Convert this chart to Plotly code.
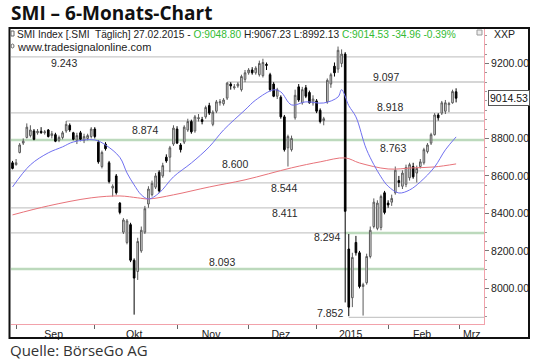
import pandas as pd
import plotly.graph_objects as go

# ---------------- data ----------------
holidays = ["2014-12-24", "2014-12-25", "2014-12-26", "2014-12-31", "2015-01-01", "2015-01-02"]
dates = [d for d in pd.bdate_range("2014-08-29", "2015-02-27") if d.strftime("%Y-%m-%d") not in holidays]

opens = [8670, 8660, 8725, 8775, 8805, 8815, 8840, 8830, 8838, 8830, 8845, 8815, 8820, 8790, 8805, 8840, 8870, 8830, 8790, 8830,
         8790, 8800, 8810, 8850, 8780, 8650, 8770, 8670, 8535, 8600, 8455, 8300, 8245, 8340, 8150, 8090, 8200, 8300, 8450, 8500,
         8540, 8620, 8600, 8700, 8700, 8770, 8850, 8765, 8780, 8845, 8890, 8840, 8905, 8900, 8915, 8975, 8875, 8945, 8990, 8985,
         9015, 9090, 9070, 9080, 9060, 9115, 9150, 9165, 9150, 9140, 9135, 9195, 9140, 9090, 9025, 9020, 8915, 8750, 8740, 8910,
         9075, 8990, 9070, 9045, 8990, 9000, 8950, 8895, 8995, 9090, 9185, 9170, 9200, 9250, 8210, 7950, 8245, 8190, 8010, 8030,
         8170, 8330, 8320, 8325, 8510, 8455, 8460, 8510, 8575, 8545, 8555, 8590, 8650, 8615, 8650, 8670, 8730, 8775, 8820, 8925,
         8935, 8945, 8980, 8990, 9048.80]
highs = [8680, 8690, 8775, 8800, 8880, 8870, 8850, 8850, 8860, 8845, 8850, 8840, 8830, 8815, 8840, 8893, 8880, 8835, 8830, 8840,
         8825, 8825, 8860, 8860, 8790, 8735, 8780, 8680, 8555, 8610, 8460, 8375, 8370, 8350, 8160, 8270, 8330, 8440, 8545, 8575,
         8615, 8630, 8670, 8715, 8760, 8870, 8865, 8775, 8870, 8905, 8900, 8925, 8930, 8915, 8975, 8990, 8950, 9005, 9010, 9015,
         9101, 9100, 9090, 9100, 9140, 9165, 9175, 9180, 9185, 9215, 9225, 9205, 9150, 9100, 9070, 9030, 8925, 8820, 8815, 9060,
         9090, 9075, 9085, 9055, 9030, 9010, 8960, 8915, 9120, 9150, 9205, 9290, 9275, 9260, 8290, 8190, 8280, 8200, 8030, 8185,
         8330, 8480, 8470, 8500, 8520, 8470, 8500, 8650, 8600, 8630, 8660, 8670, 8670, 8655, 8690, 8750, 8775, 8830, 8935, 8935,
         9000, 9005, 8995, 9060, 9067.23]
lows = [8635, 8655, 8720, 8765, 8800, 8805, 8790, 8820, 8825, 8820, 8805, 8800, 8780, 8780, 8795, 8830, 8835, 8790, 8770, 8785,
        8775, 8790, 8800, 8800, 8665, 8640, 8735, 8560, 8490, 8500, 8395, 8290, 8235, 8140, 7860, 8045, 8190, 8290, 8430, 8490,
        8530, 8510, 8590, 8670, 8620, 8760, 8770, 8725, 8770, 8835, 8825, 8830, 8890, 8875, 8905, 8925, 8865, 8935, 8975, 8975,
        9005, 9060, 9060, 9070, 9050, 9100, 9140, 9140, 9140, 9130, 9125, 9165, 9050, 9020, 9010, 8905, 8730, 8650, 8730, 8900,
        8995, 8980, 9015, 8985, 8975, 8935, 8880, 8870, 8985, 9070, 9130, 9150, 9180, 7925, 7852, 7900, 8175, 8000, 7855, 8020,
        8160, 8320, 8310, 8310, 8395, 8430, 8440, 8500, 8540, 8530, 8540, 8575, 8585, 8565, 8640, 8660, 8720, 8765, 8815, 8895,
        8925, 8930, 8940, 8985, 8992.13]
closes = [8640, 8670, 8765, 8785, 8860, 8845, 8795, 8838, 8830, 8835, 8810, 8825, 8785, 8805, 8830, 8875, 8845, 8795, 8815, 8795,
          8810, 8815, 8850, 8810, 8675, 8725, 8745, 8570, 8545, 8510, 8405, 8365, 8360, 8150, 8055, 8250, 8310, 8425, 8530, 8560,
          8600, 8520, 8655, 8680, 8750, 8855, 8775, 8740, 8860, 8890, 8835, 8915, 8910, 8890, 8965, 8935, 8940, 8995, 8995, 9005,
          9095, 9080, 9075, 9090, 9130, 9150, 9165, 9150, 9175, 9200, 9205, 9190, 9060, 9025, 9060, 8915, 8740, 8810, 8800, 9030,
          9005, 9060, 9025, 8990, 9010, 8945, 8890, 8905, 9110, 9140, 9150, 9270, 9250, 8411, 7900, 8165, 8190, 8010, 8020, 8170,
          8310, 8460, 8455, 8490, 8405, 8445, 8480, 8630, 8565, 8615, 8645, 8660, 8595, 8640, 8675, 8740, 8765, 8820, 8925, 8910,
          8990, 8990, 8985, 9050, 9014.53]

# moving averages (trading-day index, value)
ma_short_idx = [0, 5, 10, 14, 17, 23, 26, 30, 32, 34, 36, 38, 41, 45, 50, 55, 59, 65, 68, 73, 75, 78, 82, 87, 91, 92, 94,
                96, 99, 103, 105, 108, 111, 114, 118, 121, 124]
ma_short_val = [8541, 8659, 8723, 8755, 8781, 8792, 8765, 8699, 8616, 8552, 8499, 8477, 8509, 8595, 8669, 8755, 8845, 8952,
                9005, 9059, 9048, 8979, 8995, 8989, 9021, 9060, 8975, 8915, 8739, 8595, 8545, 8509, 8525, 8568, 8648, 8739, 8808]
ma_long_idx = [0, 10, 22, 30, 35, 38, 45, 55, 65, 78, 86, 93, 97, 105, 112, 118, 124]
ma_long_val = [8392, 8440, 8483, 8493, 8483, 8477, 8499, 8541, 8579, 8643, 8675, 8696, 8669, 8637, 8643, 8648, 8664]

# horizontal support / resistance levels
level_values = [9235, 9101, 8936, 8893, 8792, 8627, 8563, 8429, 8296, 8104, 7845]
level_labels = ["9.243", "9.097", "8.918", "8.874", "8.763", "8.600", "8.544", "8.411", "8.294", "8.093", "7.852"]
level_start = [None, 60, None, 15, None, None, None, None, None, None, 94]
level_green = [False, False, False, False, True, False, False, False, False, True, False]
label_idx = [14.4, 104.4, 105.5, 37.0, 106.4, 62.2, 75.9, 76.2, 87.9, 58.6, 88.8]
label_val = [9203, 9128, 8968, 8845, 8749, 8664, 8536, 8400, 8275, 8141, 7869]

month_labels = ["Sep", "Okt", "Nov", "Dez", "2015", "Feb", "Mrz"]

# ---------------- figure ----------------
W, H = 540, 361
ML, MR, MT, MB = 11, 56, 28, 37
PW, PH = W - ML - MR, H - MT - MB
X_RANGE = [-0.42, 131.8]
Y_RANGE = [7810, 9389]


def px(x):
    return (x - ML) / PW


def py(y):
    return (H - MB - y) / PH


idx = list(range(len(dates)))
# month starts and mid-month label positions from the trading calendar
month_keys = [d.strftime("%Y-%m") for d in dates]
starts, mids = [], []
for k in dict.fromkeys(month_keys):
    ii = [i for i, m in enumerate(month_keys) if m == k]
    starts.append(ii[0])
    mids.append((ii[0] + ii[-1]) / 2)
starts, mids = starts[1:], mids[1:]  # drop the single August day
mar_start = len(dates)
starts.append(mar_start)
mids.append((mar_start + X_RANGE[1]) / 2)

PINK = "#f2a2ab"
fig = go.Figure()

# level lines
for v, s, g in zip(level_values, level_start, level_green):
    col = "#bcd9bc" if g else "#c9c9c9"
    wid = 2.5 if g else 1.3
    if s is None:
        fig.add_shape(type="line", xref="paper", yref="y", x0=0, x1=1, y0=v, y1=v,
                      line=dict(color=col, width=wid), layer="below")
    else:
        fig.add_shape(type="line", xref="x", yref="y", x0=s, x1=X_RANGE[1], y0=v, y1=v,
                      line=dict(color=col, width=wid), layer="below")
# green part of the 8.294 level after the SNB shock
fig.add_shape(type="line", xref="x", yref="y", x0=93, x1=X_RANGE[1], y0=level_values[8], y1=level_values[8],
              line=dict(color="#bcd9bc", width=2.5), layer="below")

for t, xi, yv in zip(level_labels, label_idx, label_val):
    fig.add_annotation(x=xi, y=yv, xref="x", yref="y", text=t, showarrow=False,
                       font=dict(family="Liberation Sans, Arial", size=10.5, color="#2a2a2a"))

fig.add_trace(go.Scatter(x=ma_long_idx, y=ma_long_val, mode="lines", line=dict(color="#e8737a", width=1, shape="spline"),
                         hoverinfo="skip"))
fig.add_trace(go.Scatter(x=ma_short_idx, y=ma_short_val, mode="lines", line=dict(color="#7070f0", width=1, shape="spline"),
                         hoverinfo="skip"))

fig.add_trace(go.Candlestick(
    x=idx, open=opens, high=highs, low=lows, close=closes,
    increasing=dict(line=dict(color="#5a5a5a", width=1), fillcolor="#e4e4e4"),
    decreasing=dict(line=dict(color="#000000", width=1), fillcolor="#000000"),
    whiskerwidth=0, text=[d.strftime("%d.%m.%Y") for d in dates], name="SMI"))

fig.update_layout(
    width=W, height=H, margin=dict(l=ML, r=MR, t=MT, b=MB),
    paper_bgcolor="white", plot_bgcolor="white", showlegend=False,
    boxgap=0.35,
    xaxis=dict(range=X_RANGE, showgrid=False, zeroline=False, showline=True, linecolor=PINK, linewidth=1,
               tickmode="array", tickvals=mids, ticktext=month_labels, ticks="", ticklen=0,
               tickfont=dict(family="Liberation Sans, Arial", size=10.5, color="#222"),
               minor=dict(tickmode="array", tickvals=starts, ticks="outside", ticklen=4, tickcolor="#666"),
               rangeslider=dict(visible=False), fixedrange=True),
    yaxis=dict(range=Y_RANGE, side="right", showgrid=False, zeroline=False, showline=True, linecolor=PINK, linewidth=1,
               tickmode="array", tickvals=[8000, 8200, 8400, 8600, 8800, 9200], tickformat=".2f",
               ticks="outside", ticklen=4, tickcolor="#777",
               tickfont=dict(family="Liberation Sans, Arial", size=10.5, color="#222"),
               minor=dict(dtick=50, ticks="outside", ticklen=2, tickcolor="#999"), fixedrange=True),
)

# outer frame
fig.add_shape(type="rect", xref="paper", yref="paper", x0=px(9.5), x1=px(529), y0=py(338), y1=py(28),
              line=dict(color="#111", width=2))

# title and source
fig.add_annotation(xref="paper", yref="paper", x=px(9), y=py(13), xanchor="left", yanchor="middle",
                   text="<b>SMI – 6-Monats-Chart</b>", showarrow=False,
                   font=dict(family="Open Sans", size=19, color="#111"))
fig.add_annotation(xref="paper", yref="paper", x=px(8), y=py(350), xanchor="left", yanchor="middle",
                   text="Quelle: BörseGo AG", showarrow=False,
                   font=dict(family="Open Sans", size=15, color="#333"))

# header inside frame
G = "#33bb33"
hdr = ("SMI Index [.SMI  Täglich] 27.02.2015 - <span style='color:%s'>O:9048.80</span> H:9067.23 L:8992.13 "
       "<span style='color:%s'>C:9014.53 -34.96 -0.39%%</span>") % (G, G)
fig.add_annotation(xref="paper", yref="paper", x=px(15), y=py(34), xanchor="left", yanchor="middle",
                   text=hdr, showarrow=False, font=dict(family="Liberation Sans, Arial", size=10.2, color="#222"))
fig.add_annotation(xref="paper", yref="paper", x=px(15), y=py(46.5), xanchor="left", yanchor="middle",
                   text="www.tradesignalonline.com", showarrow=False,
                   font=dict(family="Liberation Sans, Arial", size=11, color="#222"))
fig.add_shape(type="rect", xref="paper", yref="paper", x0=px(11), x1=px(14), y0=py(36), y1=py(31),
              line=dict(color="#666", width=1))
fig.add_shape(type="circle", xref="paper", yref="paper", x0=px(11), x1=px(14), y0=py(48), y1=py(44),
              line=dict(color="#666", width=1))
fig.add_annotation(xref="paper", yref="paper", x=px(492), y=py(34), xanchor="left", yanchor="middle",
                   text="XXP", showarrow=False, font=dict(family="Liberation Sans, Arial", size=10.5, color="#222"))
fig.add_shape(type="rect", xref="paper", yref="paper", x0=px(477), x1=px(482), y0=py(35), y1=py(30),
              line=dict(color="#999", width=1), fillcolor="#eee")

# last price box
fig.add_annotation(xref="paper", yref="y", x=px(488), y=closes[-1], xanchor="left", yanchor="middle",
                   text="%.2f" % closes[-1], showarrow=False, bordercolor="#555", borderwidth=1, borderpad=1,
                   bgcolor="white", font=dict(family="Liberation Sans, Arial", size=10.5, color="#111"))

fig.write_html("out.html")
